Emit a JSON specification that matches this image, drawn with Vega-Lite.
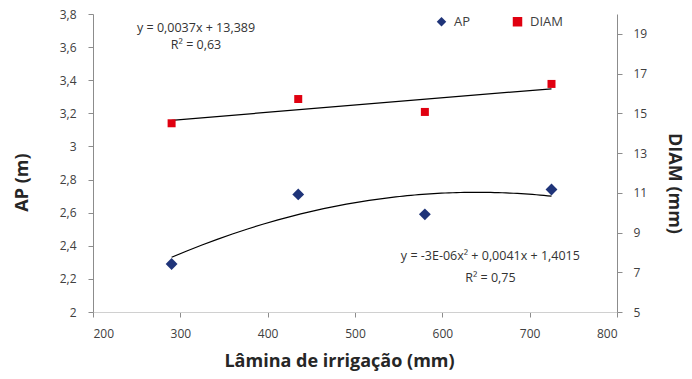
{
  "$schema": "https://vega.github.io/schema/vega-lite/v6.json",
  "width": 524,
  "height": 298,
  "autosize": {"type": "none"},
  "padding": {"left": 93, "top": 14, "right": 75, "bottom": 67},
  "background": "white",
  "config": {
    "view": {"stroke": null},
    "font": "Open Sans",
    "locale": {
      "number": {"decimal": ",", "thousands": ".", "grouping": [3], "currency": ["R$", ""]}
    },
    "axis": {
      "grid": false,
      "domainColor": "#8c8c8c",
      "tickColor": "#8c8c8c",
      "tickSize": 5,
      "labelColor": "#404040",
      "labelFont": "Open Sans",
      "labelFontSize": 12,
      "labelOverlap": false,
      "titleFont": "Open Sans",
      "titleFontSize": 18,
      "titleFontWeight": "bold",
      "titleColor": "#262626"
    },
    "legend": {
      "labelFont": "Open Sans",
      "labelFontSize": 13,
      "labelColor": "#404040",
      "symbolStrokeWidth": 0,
      "symbolSize": 90
    }
  },
  "datasets": {
    "pontos": [
      {"lamina": 290, "serie": "AP", "valor": 2.29},
      {"lamina": 435, "serie": "AP", "valor": 2.71},
      {"lamina": 580, "serie": "AP", "valor": 2.59},
      {"lamina": 725, "serie": "AP", "valor": 2.74},
      {"lamina": 290, "serie": "DIAM", "valor": 14.5},
      {"lamina": 435, "serie": "DIAM", "valor": 15.72},
      {"lamina": 580, "serie": "DIAM", "valor": 15.07},
      {"lamina": 725, "serie": "DIAM", "valor": 16.48}
    ],
    "notas": [
      {"lamina": 318, "ap": 3.715, "texto": "y = 0,0037x + 13,389"},
      {"lamina": 318, "ap": 3.61, "texto": "R² = 0,63"},
      {"lamina": 655, "ap": 2.337, "texto": "y = -3E-06x² + 0,0041x + 1,4015"},
      {"lamina": 655, "ap": 2.204, "texto": "R² = 0,75"}
    ]
  },
  "layer": [
    {
      "layer": [
        {
          "data": {"name": "pontos"},
          "transform": [
            {"filter": "datum.serie === 'AP'"},
            {"regression": "valor", "on": "lamina", "method": "poly", "order": 2, "extent": [290, 725]}
          ],
          "mark": {"type": "line", "color": "#000000", "strokeWidth": 1.2},
          "encoding": {
            "x": {
              "field": "lamina", "type": "quantitative",
              "scale": {"domain": [200, 800], "nice": false, "zero": false},
              "axis": {"title": "Lâmina de irrigação (mm)", "values": [200, 300, 400, 500, 600, 700, 800], "format": "d", "domainColor": "#d0d0d0", "labelPadding": 11, "titlePadding": 13, "titleX": 246, "labelOverlap": false}
            },
            "y": {
              "field": "valor", "type": "quantitative",
              "scale": {"domain": [2, 3.8], "nice": false, "zero": false},
              "axis": {"title": "AP (m)", "tickCount": 10, "values": [2, 2.2, 2.4, 2.6, 2.8, 3, 3.2, 3.4, 3.6, 3.8], "format": "~g", "labelOverlap": false, "labelSeparation": 0, "labelPadding": 12, "titlePadding": 28, "titleY": 168}
            }
          }
        },
        {
          "data": {"name": "pontos"},
          "transform": [{"filter": "datum.serie === 'AP'"}],
          "mark": {"type": "point", "filled": true, "opacity": 1, "size": 140},
          "encoding": {
            "x": {"field": "lamina", "type": "quantitative"},
            "y": {"field": "valor", "type": "quantitative"},
            "color": {
              "field": "serie", "type": "nominal",
              "scale": {"domain": ["AP", "DIAM"], "range": ["#1f3479", "#e00010"]},
              "legend": {"orient": "none", "legendX": 342, "legendY": 1, "direction": "horizontal", "title": null, "columnPadding": 40, "labelOffset": 6}
            },
            "shape": {
              "field": "serie", "type": "nominal",
              "scale": {"domain": ["AP", "DIAM"], "range": ["diamond", "square"]}
            }
          }
        },
        {
          "data": {"name": "notas"},
          "mark": {"type": "text", "font": "Open Sans", "fontSize": 12.5, "color": "#333333", "align": "center", "baseline": "middle"},
          "encoding": {
            "x": {"field": "lamina", "type": "quantitative"},
            "y": {"field": "ap", "type": "quantitative"},
            "text": {"field": "texto", "type": "nominal"}
          }
        }
      ]
    },
    {
      "layer": [
        {
          "data": {"name": "pontos"},
          "transform": [
            {"filter": "datum.serie === 'DIAM'"},
            {"regression": "valor", "on": "lamina", "method": "linear", "extent": [290, 725]}
          ],
          "mark": {"type": "line", "color": "#000000", "strokeWidth": 1.2},
          "encoding": {
            "x": {"field": "lamina", "type": "quantitative"},
            "y": {
              "field": "valor", "type": "quantitative",
              "scale": {"domain": [5, 20], "nice": false, "zero": false},
              "axis": {"title": "DIAM (mm)", "orient": "right", "values": [5, 7, 9, 11, 13, 15, 17, 19], "format": "d", "labelOverlap": false, "labelPadding": 11, "titlePadding": 18, "titleY": 169}
            }
          }
        },
        {
          "data": {"name": "pontos"},
          "transform": [{"filter": "datum.serie === 'DIAM'"}],
          "mark": {"type": "point", "filled": true, "opacity": 1, "size": 64},
          "encoding": {
            "x": {"field": "lamina", "type": "quantitative"},
            "y": {"field": "valor", "type": "quantitative"},
            "color": {"field": "serie", "type": "nominal"},
            "shape": {"field": "serie", "type": "nominal"}
          }
        }
      ]
    }
  ],
  "resolve": {"scale": {"y": "independent"}}
}
